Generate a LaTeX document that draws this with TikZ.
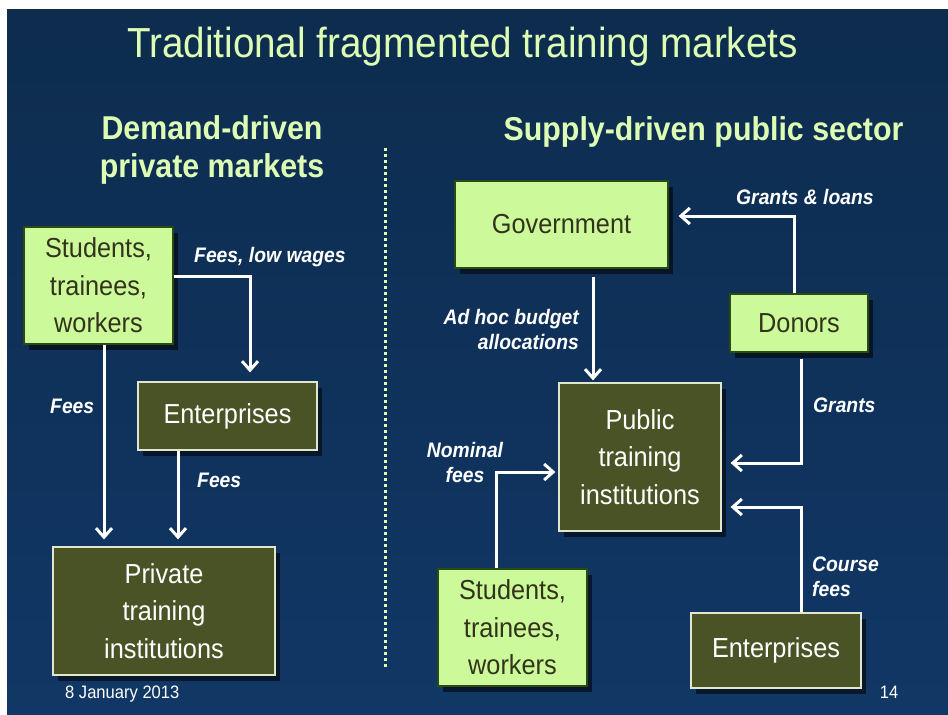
\documentclass[tikz,border=0pt]{standalone}
\usepackage{fontspec}
\setmainfont{Liberation Sans}[FakeStretch=0.92]
\usetikzlibrary{arrows.meta,shadows}
\definecolor{bgtop}{HTML}{0D2C4E}
\definecolor{bgmid}{HTML}{1F4D89}
\definecolor{bgbot}{HTML}{113766}
\definecolor{boxlight}{HTML}{CCFA9A}
\definecolor{boxdark}{HTML}{4A5326}
\definecolor{boxline}{HTML}{2B4A12}
\definecolor{boxedge}{HTML}{E2E6CC}
\definecolor{boxtext}{HTML}{33331C}
\definecolor{headtext}{HTML}{DDFDB5}
\begin{document}
\begin{tikzpicture}[x=1pt, y=-1pt,
  lightbox/.style={draw=boxline, line width=1.2pt, fill=boxlight, text=boxtext,
    font=\fontsize{27.5}{37.5}\selectfont, align=center, inner sep=0pt,
    drop shadow={shadow xshift=5pt, shadow yshift=-6pt, opacity=0.55, fill=black}},
  darkbox/.style={lightbox, fill=boxdark, draw=boxedge, text=white},
  flow/.style={draw=white, line width=3pt, -{Straight Barb[length=9pt, width=16pt]}},
  flowtext/.style={text=white, font=\bfseries\itshape\fontsize{21}{25}\selectfont, inner sep=0pt},
  heading/.style={text=headtext, font=\bfseries\fontsize{33}{38}\selectfont, align=center, inner sep=0pt},
  foot/.style={text=white, font=\fontsize{18}{18}\selectfont, inner sep=0pt}]
\fill[white] (0,0) rectangle (948,715);
\shade[top color=bgtop, middle color=bgmid, bottom color=bgbot] (7,9) rectangle (948,715);
\useasboundingbox (0,0) rectangle (948,715);

\node[text=headtext, font=\fontsize{42}{42}\selectfont, inner sep=0pt, anchor=base] (title) at (462.5,57)
  {Traditional fragmented training markets};
\node[heading, anchor=north] (demand) at (212,115) {Demand-driven\\private markets};
\node[heading, anchor=base] (supply) at (703.5,140) {Supply-driven public sector};
\draw[headtext, line width=3pt, dash pattern=on 3pt off 3pt] (385,148) -- (385,667);

\node[lightbox, minimum width=149pt, minimum height=117pt] (stuL) at (98.5,285.5) {Students,\\trainees,\\workers};
\node[darkbox, minimum width=179pt, minimum height=68pt] (entL) at (227.5,416) {Enterprises};
\node[darkbox, minimum width=222pt, minimum height=128pt] (privL) at (164,611) {Private\\training\\institutions};
\node[lightbox, minimum width=213pt, minimum height=87pt] (gov) at (561.5,224.5) {Government};
\node[lightbox, minimum width=138pt, minimum height=58pt] (donor) at (799,323) {Donors};
\node[darkbox, minimum width=162pt, minimum height=148pt] (pubR) at (640,457) {Public\\training\\institutions};
\node[lightbox, minimum width=149pt, minimum height=117pt] (stuR) at (512.5,627.5) {Students,\\trainees,\\workers};
\node[darkbox, minimum width=170pt, minimum height=75pt] (entR) at (776,650.5) {Enterprises};

\draw[flow, shorten >=9pt] ([yshift=9.5pt]stuL.east) -| ([xshift=22.5pt]entL.north);
\draw[flow, shorten >=7pt] ([xshift=5.5pt]stuL.south) -- ([xshift=5.5pt]stuL.south |- privL.north);
\draw[flow, shorten >=7pt] ([xshift=-49.5pt]entL.south) -- ([xshift=-49.5pt]entL.south |- privL.north);
\draw[flow, shorten <=8pt, shorten >=2pt] ([xshift=31.5pt]gov.south) -- ([xshift=31.5pt]gov.south |- pubR.north);
\draw[flow, shorten >=10pt] ([xshift=-5pt]donor.north) |- ([yshift=8.5pt]gov.east);
\draw[flow, shorten <=6pt, shorten >=9pt] ([xshift=2pt]donor.south) |- ([yshift=-6pt]pubR.east);
\draw[flow, shorten >=9pt] ([xshift=25pt]entR.north) |- ([yshift=-50pt]pubR.east);
\draw[flow, shorten >=3pt] ([xshift=-16.5pt]stuR.north) |- ([yshift=-15pt]pubR.west);

\node[flowtext, anchor=base west] (lowwage) at (194,262) {Fees, low wages};
\node[flowtext, anchor=base west] (feeA) at (50,413) {Fees};
\node[flowtext, anchor=base west] (feeB) at (197,487) {Fees};
\node[flowtext, anchor=base west] (loans) at (736,204) {Grants \& loans};
\node[flowtext, anchor=north east, align=right] (adhoc) at (579,309) {Ad hoc budget\\allocations};
\node[flowtext, anchor=base west] (grants) at (813,412) {Grants};
\node[flowtext, anchor=north, align=center] (nominal) at (465,442) {Nominal\\fees};
\node[flowtext, anchor=north west, align=left] (course) at (812,557) {Course\\fees};

\node[foot, anchor=base west] (date) at (65,698) {8 January 2013};
\node[foot, anchor=base] (page) at (889,698) {14};
\end{tikzpicture}
\end{document}
